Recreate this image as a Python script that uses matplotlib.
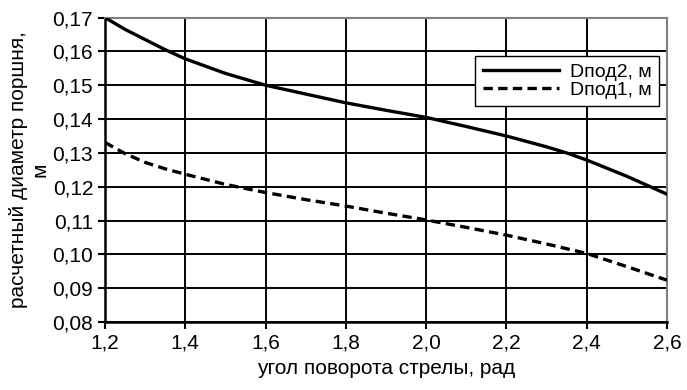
import matplotlib.pyplot as plt
import numpy as np

plt.rcParams['font.family'] = ['Liberation Sans', 'DejaVu Sans']

# данные
ugol = [1.2, 1.25, 1.3, 1.35, 1.4, 1.5, 1.6, 1.7, 1.8, 1.9, 2.0, 2.1, 2.2, 2.3, 2.35, 2.4, 2.5, 2.6]
d_pod2 = [0.170, 0.1665, 0.1635, 0.1605, 0.1578, 0.1535, 0.150, 0.1474, 0.1448, 0.1426,
          0.1405, 0.1378, 0.135, 0.1318, 0.130, 0.1279, 0.1231, 0.1178]
d_pod1 = [0.1331, 0.1298, 0.1272, 0.1253, 0.1237, 0.1207, 0.1183, 0.1162, 0.1143, 0.1122,
          0.1102, 0.1080, 0.1057, 0.1031, 0.1017, 0.1003, 0.0964, 0.0924]

x_ticks = [1.2, 1.4, 1.6, 1.8, 2.0, 2.2, 2.4, 2.6]
y_ticks = [0.08, 0.09, 0.10, 0.11, 0.12, 0.13, 0.14, 0.15, 0.16, 0.17]

fig = plt.figure(figsize=(6.87, 3.90), dpi=100)
ax = fig.add_axes([0.1528, 0.174, 0.8181, 0.781])

ax.plot(ugol, d_pod2, color='black', lw=2.4, label='Dпод2, м', zorder=3)
ax.plot(ugol, d_pod1, color='black', lw=2.4, ls=(0, (2.8, 1.6)), label='Dпод1, м', zorder=3)

ax.set_xlim(1.2, 2.6)
ax.set_ylim(0.08, 0.17)
ax.set_xticks(x_ticks)
ax.set_yticks(y_ticks)
ax.set_xticklabels([f'{v:.1f}'.replace('.', ',') for v in x_ticks])
ax.set_yticklabels([f'{v:.2f}'.replace('.', ',') for v in y_ticks])
ax.grid(True, color='black', lw=1.4, zorder=1)
ax.tick_params(direction='out', length=5, width=1.5, labelsize=15, color='black')

for side in ['left', 'bottom']:
    ax.spines[side].set_linewidth(1.8)
    ax.spines[side].set_color('black')
for side in ['top', 'right']:
    ax.spines[side].set_linewidth(1.5)
    ax.spines[side].set_color('#808080')

ax.set_xlabel('угол поворота стрелы, рад', fontsize=15, labelpad=4)
ax.set_ylabel('расчетный диаметр поршня,\nм', fontsize=15, labelpad=2, linespacing=1.15)

leg = ax.legend(loc='upper right', bbox_to_anchor=(0.986, 0.875), fontsize=14,
                frameon=True, fancybox=False, framealpha=1, edgecolor='black',
                handlelength=3.9, borderpad=0.4, labelspacing=0.0, handletextpad=0.55,
                borderaxespad=0)
leg.get_frame().set_linewidth(1.0)

plt.savefig('out.png', dpi=100)
